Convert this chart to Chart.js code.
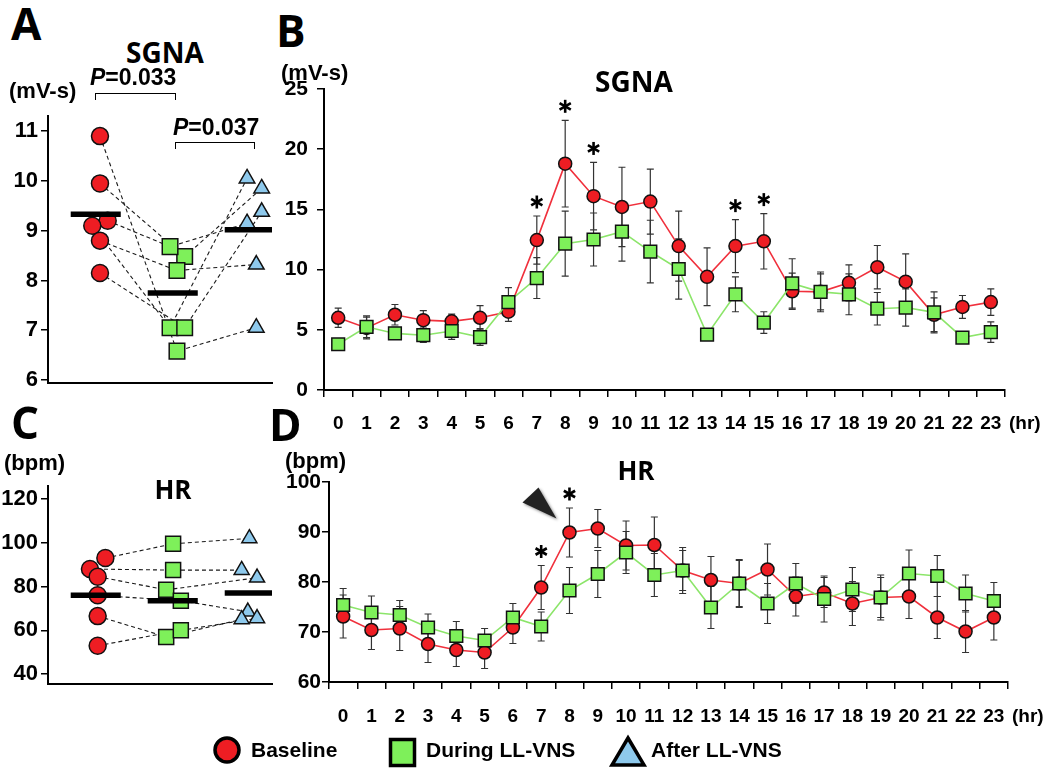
<!DOCTYPE html>
<html>
<head>
<meta charset="utf-8">
<script src="https://cdn.jsdelivr.net/npm/chart.js@4.4.1/dist/chart.umd.min.js"></script>
<style>
body { margin: 0; background: #fff; width: 1050px; height: 775px; position: relative; overflow: hidden; font-family: "Liberation Sans", Arial, sans-serif; }
canvas { position: absolute; }
.t { position: absolute; white-space: nowrap; line-height: 1; color: #000; }
.letter { font-family: "Open Sans", sans-serif; font-weight: 700; font-size: 44px; }
.title { font-family: "Open Sans", sans-serif; font-weight: 700; font-size: 28px; transform: translateX(-50%); }
.unit { font-weight: 700; font-size: 22px; }
.pval { font-weight: 700; font-size: 23px; }
.hr { font-family: "Liberation Sans Narrow", "Liberation Sans", sans-serif; font-weight: 700; font-size: 19px; }
.bracket { position: absolute; border: 1.5px solid #000; border-bottom: none; height: 6px; }
</style>
</head>
<body>

<canvas id="chartA" width="285" height="300" style="left:0;top:100px"></canvas>
<canvas id="chartB" width="780" height="385" style="left:270px;top:60px"></canvas>
<canvas id="chartC" width="285" height="230" style="left:0;top:470px"></canvas>
<canvas id="chartD" width="780" height="300" style="left:270px;top:455px"></canvas>

<div class="t letter" style="left:11px;top:1px">A</div>
<div class="t letter" style="left:276px;top:8px">B</div>
<div class="t letter" style="left:11px;top:400px">C</div>
<div class="t letter" style="left:269px;top:402px">D</div>

<div class="t title" style="left:165px;top:38px">SGNA</div>
<div class="t title" style="left:634px;top:67px">SGNA</div>
<div class="t title" style="left:173px;top:476px;font-size:26px">HR</div>
<div class="t title" style="left:636px;top:457px;font-size:26px">HR</div>

<div class="t unit" style="left:9px;top:80px">(mV-s)</div>
<div class="t unit" style="left:281px;top:62px">(mV-s)</div>
<div class="t unit" style="left:4px;top:452px">(bpm)</div>
<div class="t unit" style="left:285px;top:450px">(bpm)</div>

<div class="t pval" style="left:90px;top:66px"><i>P</i>=0.033</div>
<div class="bracket" style="left:95px;top:93px;width:79px"></div>
<div class="t pval" style="left:173px;top:116px"><i>P</i>=0.037</div>
<div class="bracket" style="left:175px;top:142px;width:78px"></div>

<div class="t hr" style="left:1009px;top:413px">(hr)</div>
<div class="t hr" style="left:1012px;top:706px">(hr)</div>

<svg style="position:absolute;left:0;top:725px" width="1050" height="50">
  <circle cx="227" cy="25" r="12" fill="#ee1d23" stroke="#000" stroke-width="3.5"/>
  <text x="251" y="32" font-family="Liberation Sans, Arial, sans-serif" font-weight="700" font-size="21">Baseline</text>
  <rect x="390.5" y="14.5" width="24" height="26" fill="#7ef05a" stroke="#000" stroke-width="3.5"/>
  <text x="426" y="32" font-family="Liberation Sans, Arial, sans-serif" font-weight="700" font-size="21">During LL-VNS</text>
  <polygon points="628,13 644,40 612,40" fill="#8ec9ec" stroke="#000" stroke-width="3.5" stroke-linejoin="miter"/>
  <text x="651" y="32" font-family="Liberation Sans, Arial, sans-serif" font-weight="700" font-size="21">After LL-VNS</text>
</svg>

<script>
// ---- panel A / C: per-animal values, in subject order ----
const sgnaBaseline = [10.9, 9.95, 9.2, 9.1, 8.8, 8.15];
const sgnaDuring = [6.58, 8.48, 8.68, 7.05, 8.2, 7.05];
const sgnaAfter = [7.05, 9.85, 9.15, 10.05, 8.32, 9.38];
const sgnaMeans = [9.33, 7.75, 9.02];
const sgnaTicksA = [6, 7, 8, 9, 10, 11];

const hrBaseline = [93, 88, 84.5, 76, 66.5, 53];
const hrDuring = [99.5, 87.5, 78.5, 73.5, 57, 60];
const hrAfter = [102, 87.5, 84, 68.5, 65, 65.5];
const hrMeans = [76, 73.5, 77];
const hrTicksC = [40, 60, 80, 100, 120];

// horizontal scatter of overlapping markers (group units)
const jitterA = [[0, 0, 0.1, -0.1, 0, 0], [0, 0.1, -0.09, -0.09, 0, 0.1], [0.03, 0.1, -0.09, -0.09, 0.03, 0.1]];
const jitterC = [[0.07, -0.13, -0.03, -0.03, -0.03, -0.03], [-0.05, -0.05, -0.14, 0.05, -0.14, 0.05], [-0.06, -0.16, 0.04, -0.08, -0.16, 0.04]];

// ---- panel B / D: hourly means and SEM ----
const hours = ["0","1","2","3","4","5","6","7","8","9","10","11","12","13","14","15","16","17","18","19","20","21","22","23"];

const sgnaHourBase = [6.0, 5.15, 6.25, 5.8, 5.7, 6.0, 6.5, 12.45, 18.8, 16.1, 15.2, 15.65, 11.95, 9.4, 11.95, 12.35, 8.2, 8.15, 8.9, 10.2, 9.0, 6.25, 6.9, 7.3];
const sgnaHourBaseErr = [0.8, 0.9, 0.85, 0.8, 0.6, 1.0, 0.8, 2.0, 3.6, 2.8, 3.3, 2.7, 2.9, 2.4, 2.2, 2.3, 1.5, 1.5, 1.5, 1.8, 2.3, 1.4, 0.95, 1.1];
const sgnaHourVns = [3.8, 5.25, 4.7, 4.55, 4.9, 4.4, 7.3, 9.3, 12.15, 12.5, 13.15, 11.5, 10.05, 4.6, 7.95, 5.6, 8.85, 8.15, 7.95, 6.75, 6.85, 6.45, 4.35, 4.8];
const sgnaHourVnsErr = [0.3, 0.9, 0.5, 0.6, 0.7, 0.7, 1.2, 1.7, 2.7, 2.2, 2.45, 2.6, 2.5, 0.2, 1.45, 0.9, 2.05, 1.65, 1.7, 1.35, 1.55, 1.7, 0.25, 0.85];
const sgnaTicksB = [0, 5, 10, 15, 20, 25];
const sgnaStarHours = [7, 8, 9, 14, 15];

const hrHourBase = [73.1, 70.4, 70.7, 67.6, 66.4, 65.9, 70.9, 78.9, 89.9, 90.7, 87.3, 87.4, 82.3, 80.4, 79.7, 82.5, 77.1, 77.9, 75.7, 76.9, 77.1, 72.9, 70.1, 72.9];
const hrHourBaseErr = [4.3, 3.9, 4.4, 3.7, 3.3, 3.2, 3.2, 4.4, 4.9, 3.8, 4.9, 5.6, 4.0, 4.7, 4.8, 5.1, 3.9, 3.0, 4.4, 4.0, 4.4, 4.2, 4.2, 4.5];
const hrHourVns = [75.4, 73.9, 73.4, 70.9, 69.2, 68.3, 72.9, 71.1, 78.3, 81.6, 85.9, 81.4, 82.3, 74.9, 79.7, 75.7, 79.7, 76.6, 78.5, 76.9, 81.7, 81.2, 77.7, 76.2];
const hrHourVnsErr = [3.3, 3.3, 2.9, 2.7, 2.9, 2.4, 2.8, 2.9, 4.6, 4.7, 4.2, 4.3, 4.6, 4.2, 4.6, 4.0, 4.0, 4.6, 4.4, 4.5, 4.7, 4.1, 3.7, 3.7];
const hrTicksD = [60, 70, 80, 90, 100];
const hrStarHours = [7, 8];

const RED = "#ee1d23", GREEN = "#7ef05a", BLUE = "#8ec9ec";

Chart.defaults.font.family = '"Liberation Sans", Arial, sans-serif';
Chart.defaults.color = "#000";

const errorBars = {
    id: "errorBars",
    beforeDatasetsDraw(chart) {
        const { ctx, scales: { x, y } } = chart;
        ctx.save();
        ctx.strokeStyle = "#333";
        ctx.lineWidth = 1.2;
        chart.data.datasets.forEach((ds) => {
            if (!ds.errors) return;
            ds.data.forEach((v, i) => {
                const px = x.getPixelForValue(i);
                const top = y.getPixelForValue(v + ds.errors[i]);
                const bot = y.getPixelForValue(v - ds.errors[i]);
                ctx.beginPath();
                ctx.moveTo(px, top); ctx.lineTo(px, bot);
                ctx.moveTo(px - 3.5, top); ctx.lineTo(px + 3.5, top);
                ctx.moveTo(px - 3.5, bot); ctx.lineTo(px + 3.5, bot);
                ctx.stroke();
            });
        });
        ctx.restore();
    }
};

function drawStar(ctx, cx, cy) {
    ctx.save();
    ctx.strokeStyle = "#000";
    ctx.lineWidth = 2.6;
    ctx.lineCap = "butt";
    [90, 30, -30].forEach((deg) => {
        const a = deg * Math.PI / 180;
        const dx = Math.cos(a) * 6.5, dy = Math.sin(a) * 6.5;
        ctx.beginPath();
        ctx.moveTo(cx - dx, cy - dy);
        ctx.lineTo(cx + dx, cy + dy);
        ctx.stroke();
    });
    ctx.restore();
}

const stars = {
    id: "stars",
    afterDatasetsDraw(chart, args, opts) {
        if (!opts.hours) return;
        const { ctx, scales: { x, y } } = chart;
        opts.hours.forEach((h) => {
            const topVal = Math.max(...chart.data.datasets.map((ds) => ds.data[h] + ds.errors[h]));
            drawStar(ctx, x.getPixelForValue(h), y.getPixelForValue(topVal) - 14);
        });
        if (opts.arrowHour !== undefined) {
            const ds = chart.data.datasets.find((d) => d.label === "Baseline");
            const px = x.getPixelForValue(opts.arrowHour);
            const py = y.getPixelForValue(ds.data[opts.arrowHour]);
            ctx.save();
            ctx.shadowColor = "rgba(0,0,0,0.45)";
            ctx.shadowBlur = 3;
            ctx.shadowOffsetX = 1.5;
            ctx.shadowOffsetY = 1.5;
            ctx.fillStyle = "#222";
            ctx.beginPath();
            ctx.moveTo(px - 47, py - 30);
            ctx.lineTo(px - 31, py - 45);
            ctx.lineTo(px - 13, py - 14);
            ctx.closePath();
            ctx.fill();
            ctx.restore();
        }
    }
};

function yAxis(min, max, tickVals, width, padding, size) {
    return {
        min, max,
        afterBuildTicks: (s) => { s.ticks = tickVals.map((v) => ({ value: v })); },
        afterFit: (s) => { s.width = width; },
        border: { display: true, color: "#000", width: 2 },
        grid: { display: true, drawOnChartArea: false, drawTicks: true, tickLength: 7, color: "#000", lineWidth: 1.5 },
        ticks: { font: { size, weight: "bold" }, color: "#000", padding }
    };
}

function hourChart(id, base, baseErr, vns, vnsErr, yMin, yMax, yTicks, yWidth, yPad, pad, xHeight, labelPad, starOpts) {
    return new Chart(document.getElementById(id), {
        type: "line",
        data: {
            labels: hours,
            datasets: [
                {
                    label: "During LL-VNS", data: vns, errors: vnsErr, order: 0,
                    borderColor: "#8ce56a", borderWidth: 1.6,
                    pointStyle: "rect", pointRadius: 9, pointBackgroundColor: GREEN,
                    pointBorderColor: "#111", pointBorderWidth: 1.5
                },
                {
                    label: "Baseline", data: base, errors: baseErr, order: 1,
                    borderColor: "#f0303c", borderWidth: 1.6,
                    pointStyle: "circle", pointRadius: 6.5, pointBackgroundColor: RED,
                    pointBorderColor: "#111", pointBorderWidth: 1.5
                }
            ]
        },
        options: {
            responsive: false,
            animation: false,
            layout: { padding: pad },
            plugins: { legend: { display: false }, tooltip: { enabled: false }, stars: starOpts },
            scales: {
                x: {
                    type: "category",
                    offset: true,
                    afterFit: (s) => { s.height = xHeight; },
                    border: { display: true, color: "#000", width: 2 },
                    grid: { display: true, offset: true, drawOnChartArea: false, drawTicks: true, tickLength: 7, color: "#000", lineWidth: 1.5 },
                    ticks: {
                        autoSkip: false, maxRotation: 0, padding: labelPad, color: "#000",
                        font: { family: '"Liberation Sans Narrow", "Liberation Sans", sans-serif', size: 19, weight: "bold" }
                    }
                },
                y: yAxis(yMin, yMax, yTicks, yWidth, yPad, 21)
            }
        },
        plugins: [errorBars, stars]
    });
}

function groupChart(id, baseVals, duringVals, afterVals, means, jitter, yMin, yMax, yTicks, pad, xHeight, sizes) {
    const groups = [baseVals, duringVals, afterVals];
    const datasets = [];
    baseVals.forEach((_, i) => {
        datasets.push({
            data: groups.map((vals, g) => ({ x: g + 1 + jitter[g][i], y: vals[i] })),
            showLine: true, borderColor: "#1a1a1a", borderWidth: 1.1, borderDash: [4, 3],
            pointRadius: 0, order: 3
        });
    });
    const styles = [
        { pointStyle: "circle", pointRadius: sizes[0], pointBackgroundColor: RED },
        { pointStyle: "rect", pointRadius: sizes[1], pointBackgroundColor: GREEN },
        { pointStyle: "triangle", pointRadius: sizes[2], pointBackgroundColor: BLUE }
    ];
    groups.forEach((vals, g) => {
        datasets.push(Object.assign({
            data: vals.map((v, i) => ({ x: g + 1 + jitter[g][i], y: v })),
            showLine: false, pointBorderColor: "#111", pointBorderWidth: 1.5, order: 2
        }, styles[g]));
    });
    means.forEach((m, g) => {
        datasets.push({
            data: [{ x: g + 1 - 0.38, y: m }, { x: g + 1 + 0.27, y: m }],
            showLine: true, borderColor: "#000", borderWidth: 5.5, borderCapStyle: "butt",
            pointRadius: 0, order: 1
        });
    });
    return new Chart(document.getElementById(id), {
        type: "scatter",
        data: { datasets },
        options: {
            responsive: false,
            animation: false,
            layout: { padding: pad },
            plugins: { legend: { display: false }, tooltip: { enabled: false } },
            scales: {
                x: {
                    type: "linear", min: 0.325, max: 3.234,
                    afterFit: (s) => { s.height = xHeight; },
                    border: { display: true, color: "#000", width: 2 },
                    grid: { display: true, drawOnChartArea: false, drawTicks: false },
                    ticks: { display: false }
                },
                y: yAxis(yMin, yMax, yTicks, 48, 3, 22)
            }
        }
    });
}

groupChart("chartA", sgnaBaseline, sgnaDuring, sgnaAfter, sgnaMeans, jitterA,
    5.94, 11.3, sgnaTicksA, { top: 15, right: 13, left: 0, bottom: 0 }, 17, [8.5, 11, 9]);

groupChart("chartC", hrBaseline, hrDuring, hrAfter, hrMeans, jitterC,
    35.6, 125.8, hrTicksC, { top: 12, right: 13, left: 0, bottom: 0 }, 15, [8.5, 10.6, 8.7]);

hourChart("chartB", sgnaHourBase, sgnaHourBaseErr, sgnaHourVns, sgnaHourVnsErr,
    0, 25, sgnaTicksB, 54, 9, { top: 29, right: 45, left: 0, bottom: 0 }, 55, 15.5,
    { hours: sgnaStarHours });

hourChart("chartD", hrHourBase, hrHourBaseErr, hrHourVns, hrHourVnsErr,
    60, 100, hrTicksD, 59, 1, { top: 27, right: 42, left: 0, bottom: 0 }, 73, 16.5,
    { hours: hrStarHours, arrowHour: 8 });
</script>
</body>
</html>
